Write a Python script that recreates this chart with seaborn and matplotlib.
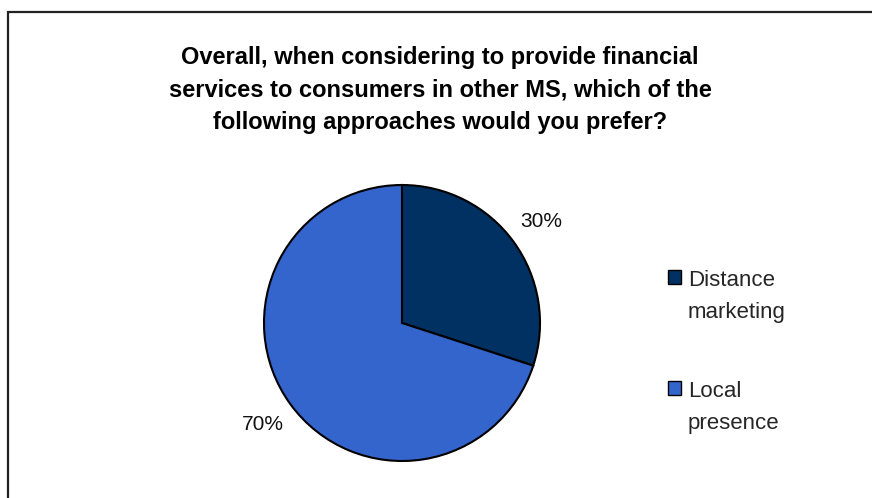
import matplotlib
matplotlib.use("Agg")
import matplotlib.pyplot as plt
import matplotlib.patches as mpatches
from matplotlib.legend_handler import HandlerPatch
import seaborn as sns

sns.set_theme(style="white")
plt.rcParams["font.family"] = ["Liberation Sans", "DejaVu Sans"]

# Survey answers (share of respondents)
categories = ["Distance\nmarketing", "Local\npresence"]
shares = [30, 70]
colors = ["#003162", "#3465CC"]
title = ("Overall, when considering to provide financial\n"
         "services to consumers in other MS, which of the\n"
         "following approaches would you prefer?")

W, H = 872, 498
fig = plt.figure(figsize=(W / 100, H / 100), dpi=100)
fig.patch.set_facecolor("white")

# outer chart frame
frame = mpatches.Rectangle((8 / W, -0.1), 1.2, (H - 12) / H + 0.1,
                           transform=fig.transFigure, fill=False,
                           edgecolor="#222222", linewidth=1.6)
fig.patches.append(frame)

fig.text(440 / W, 1 - 90 / H, title, ha="center", va="center",
         fontsize=17, fontweight="bold", linespacing=1.55, color="black")

cx, cy, r = 402, 323, 138
ax = fig.add_axes([(cx - r) / W, (H - cy - r) / H, 2 * r / W, 2 * r / H])
wedges, texts, autotexts = ax.pie(
    shares, colors=colors, startangle=90, counterclock=False,
    autopct="%d%%", pctdistance=1.25,
    wedgeprops=dict(edgecolor="black", linewidth=1.5),
    textprops=dict(fontsize=15, color="#111111"))
ax.set_aspect("equal")
ax.set_xlim(-1, 1)
ax.set_ylim(-1, 1)
ax.axis("off")


def top_square(legend, orig_handle, xdescent, ydescent, width, height, fontsize):
    # small square key aligned with the first line of a two-line label
    s = 0.6 * fontsize
    return mpatches.Rectangle((-xdescent, -ydescent + height - s + 0.45 * fontsize), s, s)


handles = [mpatches.Patch(facecolor=c, edgecolor="black", linewidth=1.0) for c in colors]
leg = fig.legend(handles, categories, loc="upper left",
                 bbox_to_anchor=(648 / W, 1 - 250 / H), frameon=False,
                 fontsize=16, handlelength=0.6, handleheight=2.0,
                 handletextpad=0.3, labelspacing=2.6,
                 handler_map={mpatches.Patch: HandlerPatch(patch_func=top_square)})
for t in leg.get_texts():
    t.set_linespacing(1.7)

fig.savefig("out.png", dpi=100, facecolor="white")
